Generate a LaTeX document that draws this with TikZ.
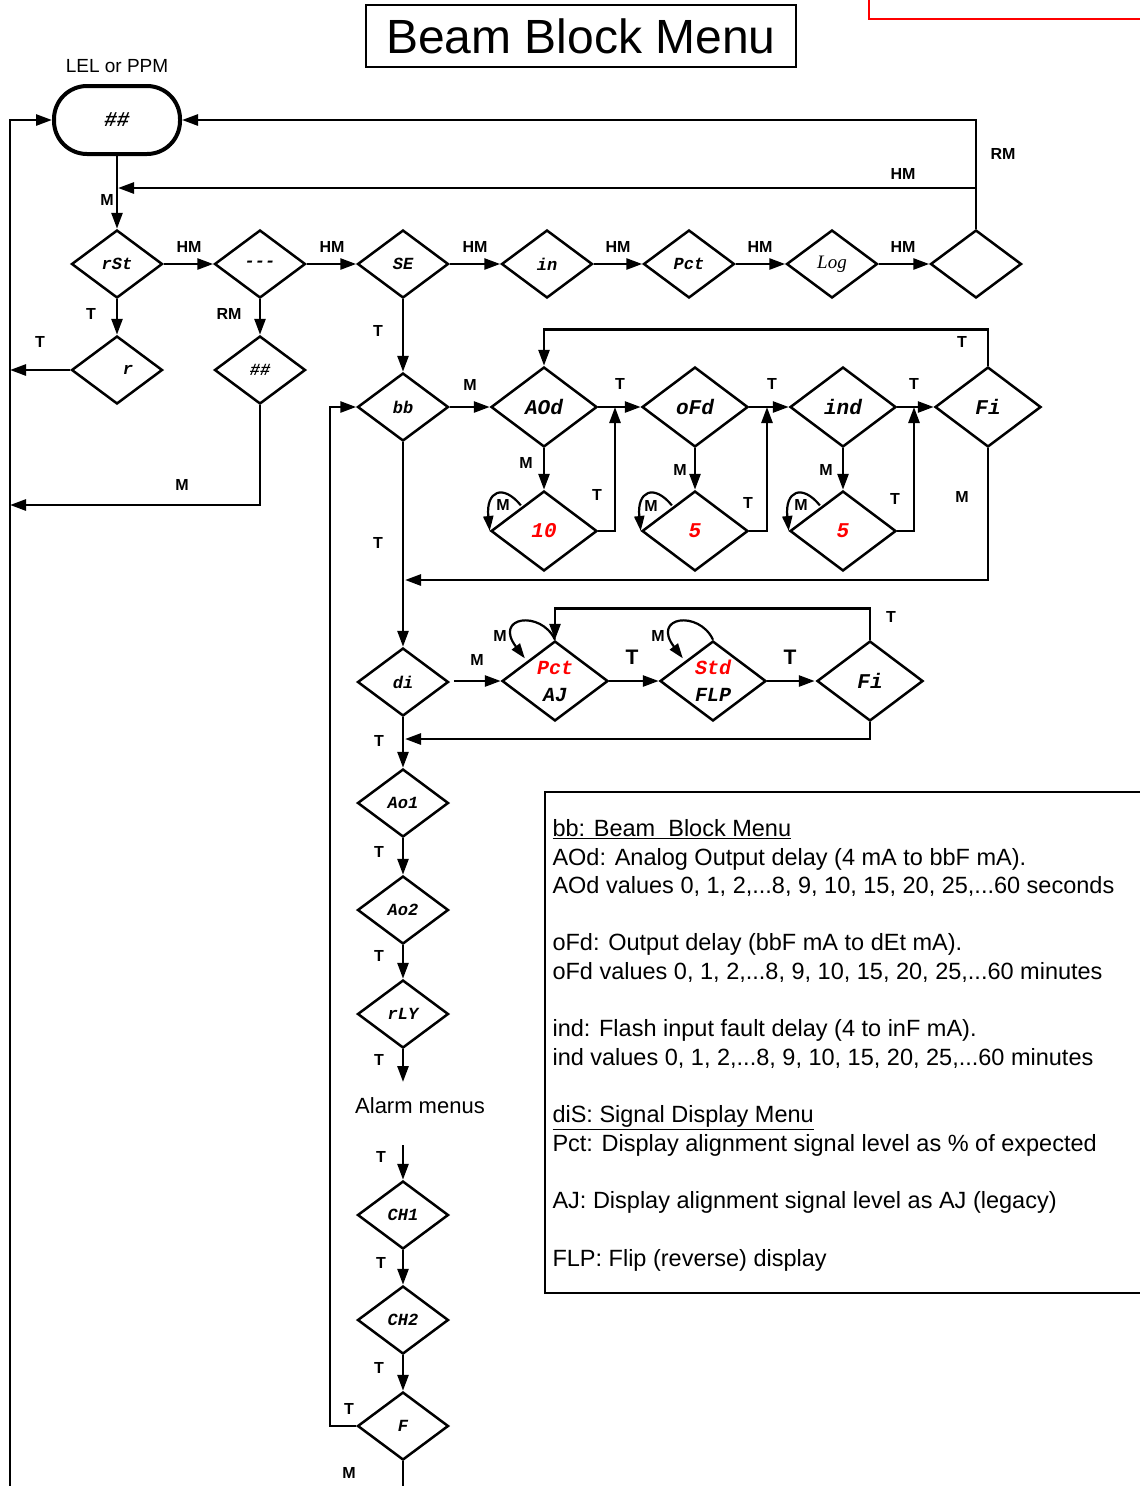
\documentclass[tikz,border=0pt]{standalone}
\usepackage{fontspec}
\setmainfont{Liberation Sans}
\newfontfamily\lcdfont{Liberation Mono}
\newfontfamily\logfont{Liberation Serif}
\usetikzlibrary{arrows.meta,shapes.geometric,calc}

\begin{document}
\begin{tikzpicture}[x=1pt,y=-1pt,
  dia/.style={
    diamond, draw, line width=2.5pt, inner sep=0pt,
    minimum width=91pt, minimum height=68pt,
    font=\lcdfont\bfseries\itshape\fontsize{17}{17}\selectfont
  },
  bigdia/.style={dia, minimum width=106pt, minimum height=80pt,
    font=\lcdfont\bfseries\itshape\fontsize{21}{21}\selectfont},
  val/.style={bigdia, text=red},
  arr/.style={-{Triangle[length=16pt,width=11pt]}, line width=2.7pt},
  loop/.style={-{Triangle[length=15pt,width=10pt]}, line width=2.2pt},
  lbl/.style={font=\bfseries\fontsize{16}{16}\selectfont},
  txt/.style={font=\fontsize{23.5}{28.6}\selectfont, align=left, anchor=north west}
]
  \useasboundingbox (0,0) rectangle (1140,1486);

  % title and frame corner
  \node[draw, line width=1.2pt, minimum width=430pt, minimum height=62pt,
        font=\fontsize{48}{48}\selectfont] (title) at (581,36) {Beam Block Menu};
  \draw[red, line width=1.5pt] (869,0) -- (869,19) -- (1145,19);

  % home display
  \node[font=\fontsize{19}{19}\selectfont] (lel) at (117,66) {LEL or PPM};
  \node[draw, line width=4pt, rounded corners=33pt, minimum width=126pt, minimum height=68pt,
        font=\lcdfont\bfseries\itshape\fontsize{21}{21}\selectfont] (home) at (117,120) {\#\#};

  % top row
  \node[dia] (rst)   at (117,264) {rSt};
  \node[dia] (dash)  at (260,264) {-{}-{}-};
  \node[dia] (se)    at (403,264) {SE};
  \node[dia] (inn)   at (547,264) {in};
  \node[dia] (pctm)  at (689,264) {Pct};
  \node[dia, font=\logfont\itshape\fontsize{19}{19}\selectfont] (logm) at (832,264) {Log};
  \node[dia] (blank) at (976,264) {};
  \node[dia] (rr)    at (117,370) {\hspace*{22pt}r};
  \node[dia] (hh)    at (260,370) {\#\#};

  % beam block menu
  \node[dia] (bb)    at (403,407) {bb};
  \node[bigdia] (aod) at (544,407) {AOd};
  \node[bigdia] (ofd) at (695,407) {oFd};
  \node[bigdia] (ind) at (843,407) {ind};
  \node[bigdia] (fia) at (988,407) {Fi};
  \node[val] (va) at (544,531) {10};
  \node[val] (vb) at (695,531) {5};
  \node[val] (vc) at (843,531) {5};

  % signal display menu
  \node[dia] (di) at (403,682) {di};
  \node[bigdia, align=center, font=\lcdfont\bfseries\itshape\fontsize{20}{27}\selectfont]
    (pa) at (555,681) {\textcolor{red}{Pct}\\AJ};
  \node[bigdia, align=center, font=\lcdfont\bfseries\itshape\fontsize{20}{27}\selectfont]
    (sf) at (713,681) {\textcolor{red}{Std}\\FLP};
  \node[bigdia] (fib) at (870,681) {Fi};

  % lower column
  \node[dia] (ao1) at (403,803)  {Ao1};
  \node[dia] (ao2) at (403,910)  {Ao2};
  \node[dia] (rly) at (403,1014) {rLY};
  \node[font=\fontsize{22}{22}\selectfont] (alarm) at (420,1106) {Alarm menus};
  \node[dia] (ch1) at (403,1215) {CH1};
  \node[dia] (ch2) at (403,1320) {CH2};
  \node[dia] (fm)  at (403,1426) {F};

  % junction points
  \coordinate (hmj) at (976,188);
  \coordinate (lr)  at (10,370);
  \coordinate (lm)  at (10,505);
  \coordinate (bot) at (10,1490);
  \coordinate (ja)  at (615,407);
  \coordinate (jb)  at (767,407);
  \coordinate (jc)  at (914,407);
  \coordinate (jd)  at (405,580);
  \coordinate (je)  at (405,739);
  \coordinate (alarmtop) at (403,1082);
  \coordinate (alarmbot) at (403,1145);
  \coordinate (jf)  at (330,1426);
  \coordinate (jg)  at (403,1490);

  % top loop
  \draw[arr] (home.south) -- (rst.north);
  \draw[arr] (rst.east) -- (dash.west);
  \draw[arr] (dash.east) -- (se.west);
  \draw[arr] (se.east) -- (inn.west);
  \draw[arr] (inn.east) -- (pctm.west);
  \draw[arr] (pctm.east) -- (logm.west);
  \draw[arr] (logm.east) -- (blank.west);
  \draw[arr] (blank.north) |- (home.east);
  \draw[arr] (hmj) -- ([xshift=1pt]home.south |- hmj);
  \draw[arr] (rst.south) -- (rr.north);
  \draw[arr] (dash.south) -- (hh.north);
  \draw[arr] (rr.west) -- (lr);
  \draw[arr] (hh.south) |- (lm);
  \draw[arr] (bot) |- (home.west);

  % beam block
  \draw[arr] (se.south) -- (bb.north);
  \draw[arr] (bb.east) -- (aod.west);
  \draw[arr] (aod.east) -- (ofd.west);
  \draw[arr] (ofd.east) -- (ind.west);
  \draw[arr] (ind.east) -- (fia.west);
  \draw[arr] (aod.south) -- (va.north);
  \draw[arr] (ofd.south) -- (vb.north);
  \draw[arr] (ind.south) -- (vc.north);
  \draw[arr] (va.east) -| (ja);
  \draw[arr] (vb.east) -| (jb);
  \draw[arr] (vc.east) -| (jc);
  \draw[loop] ([shift={(4,-5)}]va.north west) .. controls +(-18,-22) and +(-4,-40) .. (va.west);
  \draw[loop] ([shift={(4,-5)}]vb.north west) .. controls +(-18,-22) and +(-4,-40) .. (vb.west);
  \draw[loop] ([shift={(4,-5)}]vc.north west) .. controls +(-18,-22) and +(-4,-40) .. (vc.west);
  \draw[arr] (fia.north) -- ++(0,-36) -| (aod.north);
  \draw[arr] (fia.south) |- (jd);
  \draw[arr] (bb.south) -- (di.north);

  % display
  \draw[arr] ([xshift=4pt]di.east |- pa.west) -- (pa.west);
  \draw[arr] (pa.east) -- (sf.west);
  \draw[arr] (sf.east) -- ([xshift=-1pt]fib.west);
  \draw[arr] (fib.north) -- ++(0,-31) -| (pa.north);
  \draw[loop] (pa.north) .. controls +(-14,-30) and +(-32,-42) .. ([shift={(-3,-2)}]pa.north west);
  \draw[loop] (sf.north) .. controls +(-14,-30) and +(-32,-42) .. ([shift={(-3,-2)}]sf.north west);
  \draw[arr] (fib.south) |- (je);
  \draw[arr] (di.south) -- (ao1.north);

  % down the column
  \draw[arr] (ao1.south) -- (ao2.north);
  \draw[arr] (ao2.south) -- (rly.north);
  \draw[arr] (rly.south) -- (alarmtop);
  \draw[arr] (alarmbot) -- (ch1.north);
  \draw[arr] (ch1.south) -- (ch2.north);
  \draw[arr] (ch2.south) -- (fm.north);
  \draw[arr] (fm.west) -- (jf) |- (bb.west);
  \draw[line width=2.7pt] (fm.south) -- (jg);

  % key labels
  \foreach \px/\py/\t [count=\i] in {
      189/247/HM, 332/247/HM, 475/247/HM, 618/247/HM, 760/247/HM, 903/247/HM,
      903/174/HM, 1003/154/RM, 229/314/RM, 107/200/M, 182/485/M,
      91/314/T, 40/342/T, 378/331/T, 378/543/T, 379/741/T, 379/852/T, 379/956/T,
      379/1060/T, 381/1157/T, 381/1263/T, 379/1368/T, 349/1409/T, 349/1473/M,
      470/385/M, 620/384/T, 772/384/T, 914/384/T, 962/342/T, 962/497/M,
      526/463/M, 680/470/M, 826/470/M, 597/495/T, 748/503/T, 895/499/T,
      503/505/M, 651/506/M, 801/505/M,
      477/660/M, 891/617/T, 500/636/M, 658/636/M}
    \node[lbl] (key\i) at (\px,\py) {\t};
  \node[lbl, font=\bfseries\fontsize{21}{21}\selectfont] (tbig1) at (632,657) {T};
  \node[lbl, font=\bfseries\fontsize{21}{21}\selectfont] (tbig2) at (790,657) {T};

  % notes box
  \draw[line width=1.2pt] (545,792) rectangle (1150,1293);
  \node[txt] (notes) at (549,816) {%
    \underline{bb: Beam\ \ Block Menu}\\
    AOd: Analog Output delay (4 mA to bbF mA).\\
    AOd values 0, 1, 2,...8, 9, 10, 15, 20, 25,...60 seconds\\[28.6pt]
    oFd: Output delay (bbF mA to dEt mA).\\
    oFd values 0, 1, 2,...8, 9, 10, 15, 20, 25,...60 minutes\\[28.6pt]
    ind: Flash input fault delay (4 to inF mA).\\
    ind values 0, 1, 2,...8, 9, 10, 15, 20, 25,...60 minutes\\[28.6pt]
    \underline{diS: Signal Display Menu}\\
    Pct: Display alignment signal level as \% of expected\\[28.6pt]
    AJ: Display alignment signal level as AJ (legacy)\\[30pt]
    FLP: Flip (reverse) display};
\end{tikzpicture}
\end{document}
